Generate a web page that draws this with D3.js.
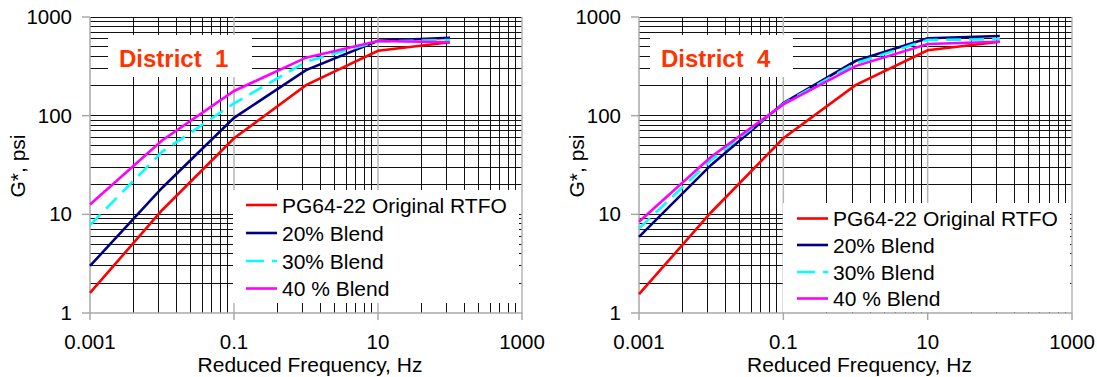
<!DOCTYPE html>
<html>
<head>
<meta charset="utf-8">
<script src="https://cdn.jsdelivr.net/npm/d3@7"></script>
<style>
  body { margin: 0; background: #fff; }
  svg { display: block; font-family: "Liberation Sans", Arial, sans-serif; }
</style>
</head>
<body>
<svg id="chart" width="1097" height="377"></svg>
<script>
// data
const freq = [0.001, 0.01, 0.1, 1, 10, 100];
const seriesNames = ["PG64-22 Original RTFO", "20% Blend", "30% Blend", "40 % Blend"];
const seriesColors = ["#ff0000", "#000080", "#00ffff", "#ff00ff"];
const d1Original = [1.6, 11, 59, 204, 455, 554];
const d1Blend20 = [3.0, 18.5, 95, 290, 575, 617];
const d1Blend30 = [7.8, 43, 133, 352, 565, 585];
const d1Blend40 = [12.6, 56, 178, 387, 571, 554];
const d4Original = [1.55, 10.5, 59, 204, 460, 562];
const d4Blend20 = [5.9, 31.7, 134, 358, 608, 641];
const d4Blend30 = [7.2, 35.5, 132, 340, 585, 596];
const d4Blend40 = [8.4, 38.4, 130, 318, 532, 562];
const xTicks = [0.001, 0.1, 10, 1000];
const xTickLabels = ["0.001", "0.1", "10", "1000"];
const yTicks = [1, 10, 100, 1000];
const yTickLabels = ["1", "10", "100", "1000"];

const svg = d3.select("svg#chart");

const panels = [
    {
        title: "District  1",
        series: [d1Original, d1Blend20, d1Blend30, d1Blend40],
        left: 90, right: 522, titleX: 18,
        titleBox: [108, 35, 144, 42],
        legendBox: [233, 190, 286, 113],
        legendRows: [205, 233, 261, 288.5],
        legendX: 246
    },
    {
        title: "District  4",
        series: [d4Original, d4Blend20, d4Blend30, d4Blend40],
        left: 639, right: 1072, titleX: 577,
        titleBox: [650, 35, 143, 42],
        legendBox: [783, 203, 287, 109],
        legendRows: [218.5, 245, 272, 298.5],
        legendX: 797
    }
];
const plotTop = 17, plotBottom = 313;

// excel style minor grid: between majors (x100), lines at major * k^2
const xMinor = [];
[0.001, 0.1, 10].forEach(m => {
    for (let k = 2; k <= 9; k++) xMinor.push(m * k * k);
});
const yMinor = [];
[1, 10, 100].forEach(m => {
    for (let k = 2; k <= 9; k++) yMinor.push(m * k);
});

panels.forEach(p => {
    const x = d3.scaleLog().domain([0.001, 1000]).range([p.left, p.right]);
    const y = d3.scaleLog().domain([1, 1000]).range([plotBottom, plotTop]);
    const g = svg.append("g");

    // grid
    g.selectAll("line.hminor")
        .data(yMinor.concat([10, 100, 1000]))
        .join("line")
        .attr("x1", p.left).attr("x2", p.right)
        .attr("y1", d => y(d)).attr("y2", d => y(d))
        .attr("stroke", "#111").attr("stroke-width", 1)
        .attr("shape-rendering", "crispEdges");
    g.selectAll("line.vminor")
        .data(xMinor)
        .join("line")
        .attr("x1", d => x(d)).attr("x2", d => x(d))
        .attr("y1", plotTop).attr("y2", plotBottom)
        .attr("stroke", "#111").attr("stroke-width", 1)
        .attr("shape-rendering", "crispEdges");
    g.selectAll("line.vmajor")
        .data(xTicks.slice(1))
        .join("line")
        .attr("x1", d => x(d)).attr("x2", d => x(d))
        .attr("y1", plotTop).attr("y2", plotBottom)
        .attr("stroke", "#b4b4b4").attr("stroke-width", 1.5);

    // axes
    g.append("line")
        .attr("x1", p.left).attr("x2", p.left).attr("y1", plotTop).attr("y2", plotBottom)
        .attr("stroke", "#a8a8a8").attr("stroke-width", 1.5);
    g.append("line")
        .attr("x1", p.left).attr("x2", p.right).attr("y1", plotBottom).attr("y2", plotBottom)
        .attr("stroke", "#a8a8a8").attr("stroke-width", 1.5);
    g.selectAll("line.xtick")
        .data(xTicks)
        .join("line")
        .attr("x1", d => x(d)).attr("x2", d => x(d))
        .attr("y1", plotBottom).attr("y2", plotBottom + 7)
        .attr("stroke", "#a8a8a8").attr("stroke-width", 1.5);
    g.selectAll("line.ytick")
        .data(yTicks)
        .join("line")
        .attr("x1", p.left - 8).attr("x2", p.left)
        .attr("y1", d => y(d)).attr("y2", d => y(d))
        .attr("stroke", "#a8a8a8").attr("stroke-width", 1.5);

    g.selectAll("text.xlabel")
        .data(xTicks)
        .join("text")
        .attr("x", d => x(d))
        .attr("y", 349)
        .attr("text-anchor", "middle")
        .style("font-size", "20.5px")
        .text((d, i) => xTickLabels[i]);
    g.selectAll("text.ylabel")
        .data(yTicks)
        .join("text")
        .attr("x", p.left - 18)
        .attr("y", d => y(d) + 7)
        .attr("text-anchor", "end")
        .style("font-size", "20.5px")
        .text((d, i) => yTickLabels[i]);

    g.append("text")
        .attr("x", (p.left + p.right) / 2 + 4)
        .attr("y", 372)
        .attr("text-anchor", "middle")
        .style("font-size", "21px")
        .text("Reduced Frequency, Hz");
    g.append("text")
        .attr("transform", `translate(${p.titleX + 7}, 166) rotate(-90)`)
        .attr("text-anchor", "middle")
        .style("font-size", "21px")
        .text("G*, psi");

    // district label
    g.append("rect")
        .attr("x", p.titleBox[0]).attr("y", p.titleBox[1])
        .attr("width", p.titleBox[2]).attr("height", p.titleBox[3])
        .attr("fill", "#fff");
    g.append("text")
        .attr("x", p.titleBox[0] + 11)
        .attr("y", 66.5)
        .style("font-size", "24px")
        .style("font-weight", "bold")
        .style("white-space", "pre")
        .attr("fill", "#ff3300")
        .text(p.title);

    // legend box sits under the curves
    g.append("rect")
        .attr("x", p.legendBox[0]).attr("y", p.legendBox[1])
        .attr("width", p.legendBox[2]).attr("height", p.legendBox[3])
        .attr("fill", "#fff");

    // curves
    const line = d3.line()
        .x((d, i) => x(freq[i]))
        .y(d => y(d));
    p.series.forEach((s, i) => {
        g.append("path")
            .datum(s)
            .attr("d", line)
            .attr("fill", "none")
            .attr("stroke", seriesColors[i])
            .attr("stroke-width", 2.6)
            .attr("stroke-dasharray", i === 2 ? "15,8" : null);
    });

    // legend entries
    seriesNames.forEach((name, i) => {
        const ry = p.legendRows[i];
        g.append("line")
            .attr("x1", p.legendX).attr("x2", p.legendX + 31)
            .attr("y1", ry).attr("y2", ry)
            .attr("stroke", seriesColors[i])
            .attr("stroke-width", 2.6)
            .attr("stroke-dasharray", i === 2 ? "18,8" : null);
        g.append("text")
            .attr("x", p.legendX + 36)
            .attr("y", ry + 7.5)
            .style("font-size", "21px")
            .text(name);
    });
});
</script>
</body>
</html>
